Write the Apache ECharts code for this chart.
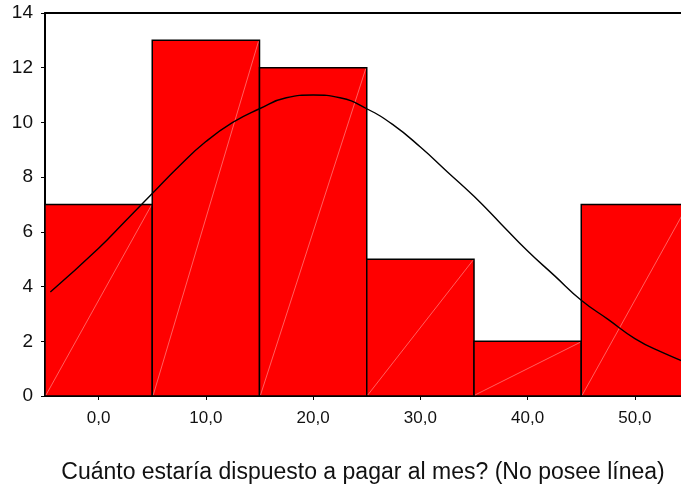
<!DOCTYPE html>
<html>
<head>
<meta charset="utf-8">
<script src="https://cdn.jsdelivr.net/npm/echarts@6/dist/echarts.min.js"></script>
<style>
html,body{margin:0;padding:0;background:#fff;}
#chart{width:681px;height:484px;}
</style>
</head>
<body>
<div id="chart"></div>
<script>
// Histogram bins (centers) and counts
var binCenters = [0, 10, 20, 30, 40, 50];
var binCounts = [7, 13, 12, 5, 2, 7];
var binWidth = 10;
// Normal curve
var curveX = [-4.5, 0, 2.5, 5, 7.5, 10, 12.5, 15, 17.5, 20, 22.5, 25, 27.5, 30, 32.5, 35, 37.5, 40, 42.5, 45, 47.5, 50, 52.5, 55];
var curveY = [3.8, 5.4, 6.4, 7.4, 8.4, 9.3, 10.0, 10.5, 10.9, 11.0, 10.9, 10.5, 9.9, 9.1, 8.2, 7.3, 6.3, 5.3, 4.4, 3.5, 2.8, 2.1, 1.6, 1.2];
var xTickValues = [0, 10, 20, 30, 40, 50];
var xTitle = 'Cuánto estaría dispuesto a pagar al mes? (No posee línea)';

var barData = binCenters.map(function (c, i) { return [c, binCounts[i]]; });
var curveData = curveX.map(function (x, i) { return [x, curveY[i]]; });

var chart = echarts.init(document.getElementById('chart'), null, {renderer: 'canvas'});
var FONT = 'Liberation Sans, Arial, sans-serif';
chart.setOption({
  animation: false,
  backgroundColor: '#fff',
  grid: {left: 45, top: 13, right: 0, bottom: 88, containLabel: false, outerBoundsMode: 'none'},
  xAxis: [{
    type: 'value', min: -5, max: 54.3,
    axisLine: {show: true, onZero: false, lineStyle: {color: '#000', width: 2}},
    axisTick: {show: true, customValues: xTickValues, length: 4, lineStyle: {color: '#000', width: 1}},
    axisLabel: {customValues: xTickValues, color: '#111', fontSize: 17, fontFamily: FONT, margin: 14,
      formatter: function (v) { return v.toFixed(1).replace('.', ','); }},
    splitLine: {show: false},
    name: xTitle, nameLocation: 'middle', nameGap: 65,
    nameTextStyle: {color: '#111', fontSize: 23, fontFamily: FONT}
  }, {
    type: 'value', position: 'top', min: -5, max: 54.3,
    axisLine: {show: true, onZero: false, lineStyle: {color: '#000', width: 2}},
    axisTick: {show: false}, axisLabel: {show: false}, splitLine: {show: false}
  }],
  yAxis: {
    type: 'value', min: 0, max: 14, interval: 2,
    axisLine: {show: true, onZero: false, lineStyle: {color: '#000', width: 2}},
    axisTick: {show: true, length: 4, lineStyle: {color: '#000', width: 1}},
    axisLabel: {color: '#111', fontSize: 19, fontFamily: FONT, margin: 12},
    splitLine: {show: false}
  },
  series: [{
    type: 'custom',
    clip: true,
    data: barData,
    renderItem: function (params, api) {
      var c = api.value(0), v = api.value(1);
      var p0 = api.coord([c - binWidth / 2, 0]);
      var p1 = api.coord([c + binWidth / 2, v]);
      return {
        type: 'group',
        children: [{
          type: 'rect',
          shape: {x: p0[0], y: p1[1], width: p1[0] - p0[0], height: p0[1] - p1[1]},
          style: {fill: '#ff0000', stroke: '#000', lineWidth: 1.5}
        }, {
          type: 'line',
          shape: {x1: p0[0] + 1, y1: p0[1] - 1, x2: p1[0] - 1, y2: p1[1] + 1},
          style: {stroke: 'rgba(255,200,200,0.8)', lineWidth: 0.6}
        }]
      };
    },
    z: 2
  }, {
    type: 'line',
    data: curveData,
    smooth: true,
    showSymbol: false,
    lineStyle: {color: '#000', width: 1.4},
    clip: true,
    z: 3
  }]
});
</script>
</body>
</html>
